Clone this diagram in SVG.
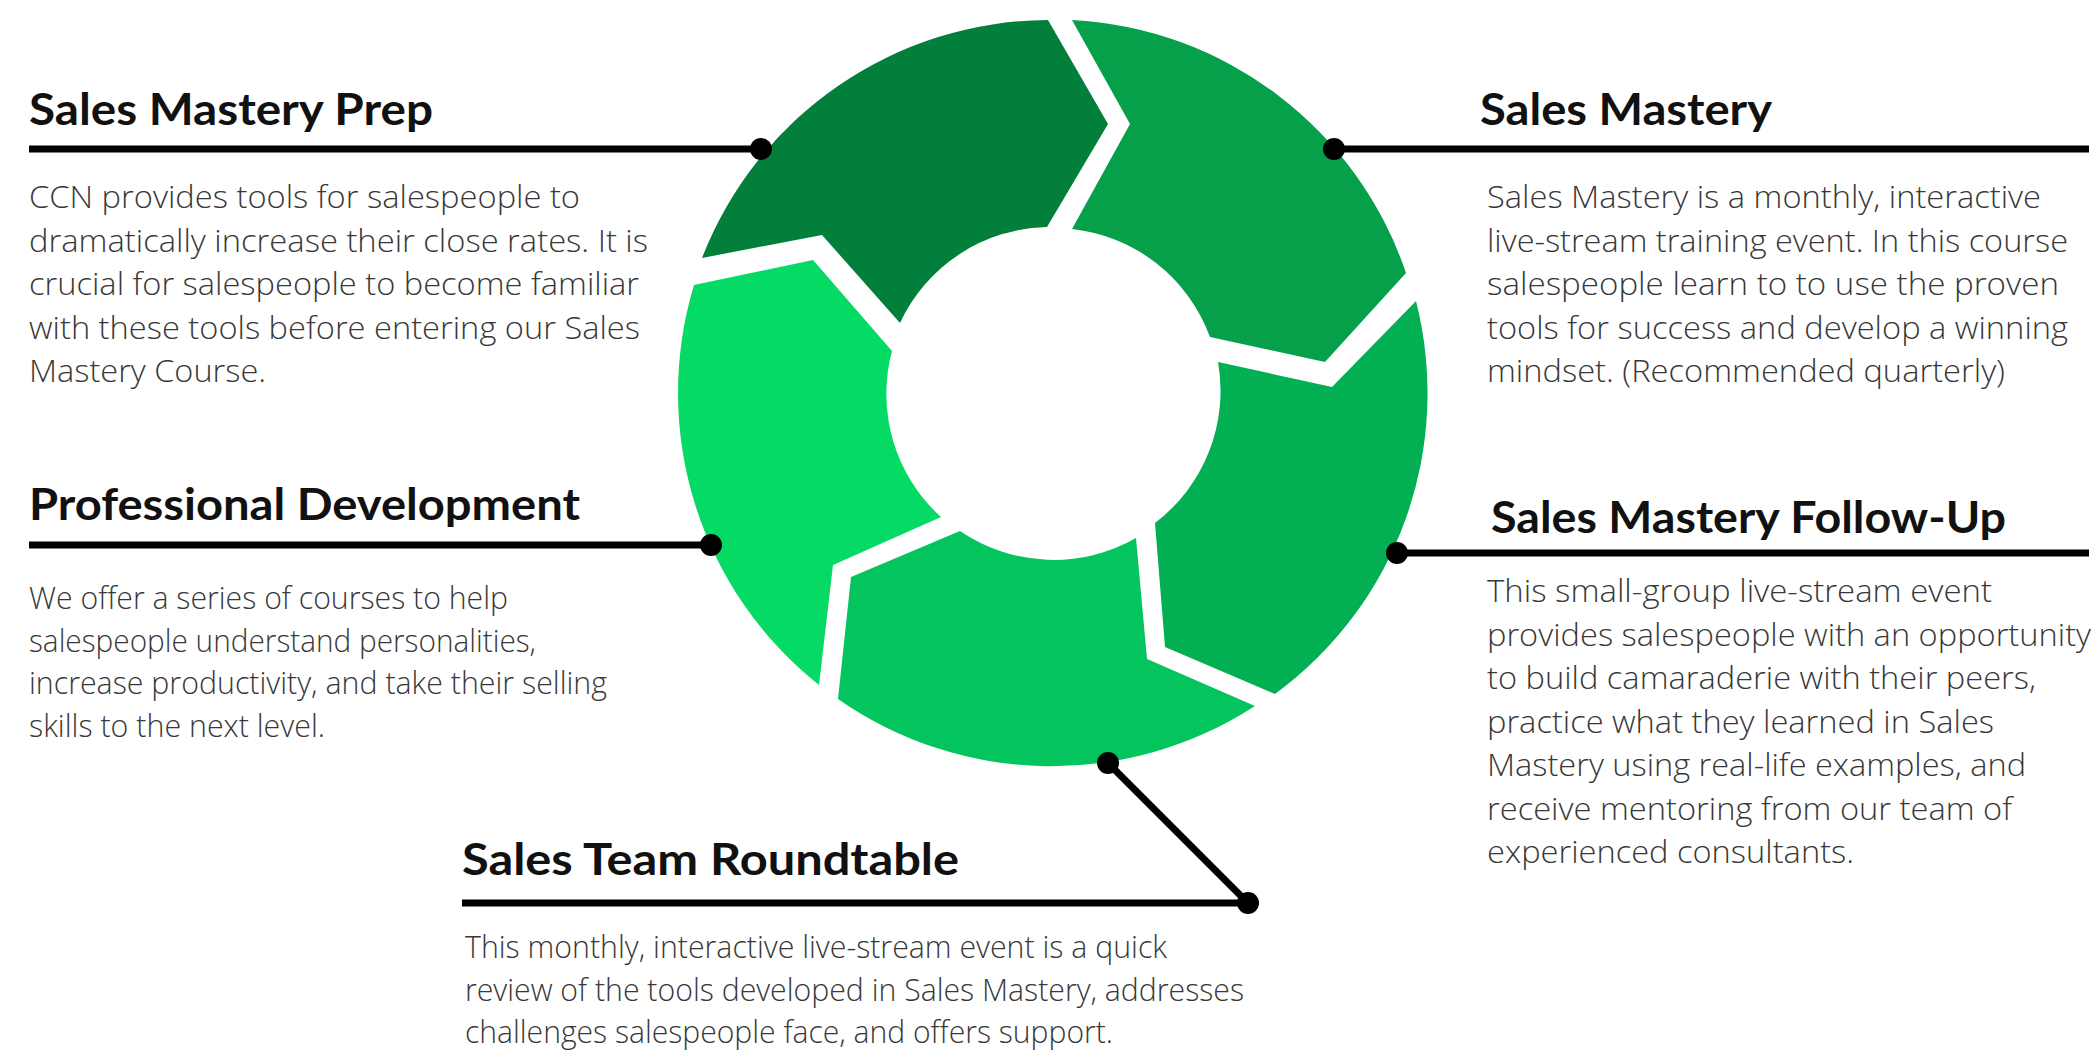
<svg xmlns="http://www.w3.org/2000/svg" width="2100" height="1052" viewBox="0 0 2100 1052">
<style>
.h{font-family:"Lato","Liberation Sans",sans-serif;font-weight:700;font-size:44px;fill:#111}
.b{font-family:"Open Sans","Liberation Sans",sans-serif;font-weight:300;font-size:32px;fill:#383838}
.ln{stroke:#000;stroke-width:7;fill:none}
.dot{fill:#000}
</style>
<rect width="2100" height="1052" fill="#fff"/>
<g id="cycle">
<g id="seg-prep"><path fill="#027F3A" d="M702,258 A373,373 0 0 1 1048,20 L1108,124 L1047,227 A166,166 0 0 0 900,323 L822,235 Z"/></g>
<g id="seg-mastery"><path fill="#06A04B" d="M1072,20 A373,373 0 0 1 1406,273 L1325,362 L1210,337 A166,166 0 0 0 1072,229 L1130,124 Z"/></g>
<g id="seg-followup"><path fill="#02AF53" d="M1416,301 A373,373 0 0 1 1275,694 L1165,647 L1155,523 A166,166 0 0 0 1218,362 L1332,387 Z"/></g>
<g id="seg-roundtable"><path fill="#04C45D" d="M1255,706 A373,373 0 0 1 838,699 L851,577 L960,531 A166,166 0 0 0 1136,538 L1147,659 Z"/></g>
<g id="seg-profdev"><path fill="#04DA64" d="M819,685 A373,373 0 0 1 694,285 L813,260 L892,351 A166,166 0 0 0 941,517 L833,565 Z"/></g>
</g>
<g id="connectors">
<line class="ln" x1="29" y1="149" x2="761" y2="149"/>
<circle class="dot" cx="761" cy="149" r="11"/>
<line class="ln" x1="1334" y1="149" x2="2089" y2="149"/>
<circle class="dot" cx="1334" cy="149" r="11"/>
<line class="ln" x1="29" y1="545" x2="711" y2="545"/>
<circle class="dot" cx="711" cy="545" r="11"/>
<line class="ln" x1="1397" y1="553" x2="2089" y2="553"/>
<circle class="dot" cx="1397" cy="553" r="11"/>
<polyline class="ln" points="1108,763 1248,903 462,903"/>
<circle class="dot" cx="1108" cy="763" r="11"/>
<circle class="dot" cx="1248" cy="903" r="11"/>
</g>
<g id="node-prep">
<text class="h" x="29" y="125" textLength="404" lengthAdjust="spacingAndGlyphs">Sales Mastery Prep</text>
<text class="b" x="29" y="208" textLength="551" lengthAdjust="spacingAndGlyphs">CCN provides tools for salespeople to</text>
<text class="b" x="29" y="251.5" textLength="619" lengthAdjust="spacingAndGlyphs">dramatically increase their close rates. It is</text>
<text class="b" x="29" y="295" textLength="610" lengthAdjust="spacingAndGlyphs">crucial for salespeople to become familiar</text>
<text class="b" x="29" y="338.5" textLength="611" lengthAdjust="spacingAndGlyphs">with these tools before entering our Sales</text>
<text class="b" x="29" y="382" textLength="237" lengthAdjust="spacingAndGlyphs">Mastery Course.</text>
</g>
<g id="node-mastery">
<text class="h" x="1480" y="125" textLength="292" lengthAdjust="spacingAndGlyphs">Sales Mastery</text>
<text class="b" x="1487" y="208" textLength="554" lengthAdjust="spacingAndGlyphs">Sales Mastery is a monthly, interactive</text>
<text class="b" x="1487" y="251.5" textLength="581" lengthAdjust="spacingAndGlyphs">live-stream training event. In this course</text>
<text class="b" x="1487" y="295" textLength="572" lengthAdjust="spacingAndGlyphs">salespeople learn to to use the proven</text>
<text class="b" x="1487" y="338.5" textLength="581" lengthAdjust="spacingAndGlyphs">tools for success and develop a winning</text>
<text class="b" x="1487" y="382" textLength="518" lengthAdjust="spacingAndGlyphs">mindset. (Recommended quarterly)</text>
</g>
<g id="node-profdev">
<text class="h" x="29" y="520" textLength="551" lengthAdjust="spacingAndGlyphs">Professional Development</text>
<text class="b" x="29" y="609" textLength="479" lengthAdjust="spacingAndGlyphs">We offer a series of courses to help</text>
<text class="b" x="29" y="651.5" textLength="507" lengthAdjust="spacingAndGlyphs">salespeople understand personalities,</text>
<text class="b" x="29" y="694" textLength="578" lengthAdjust="spacingAndGlyphs">increase productivity, and take their selling</text>
<text class="b" x="29" y="736.5" textLength="296" lengthAdjust="spacingAndGlyphs">skills to the next level.</text>
</g>
<g id="node-followup">
<text class="h" x="1491" y="533" textLength="515" lengthAdjust="spacingAndGlyphs">Sales Mastery Follow-Up</text>
<text class="b" x="1487" y="602" textLength="505" lengthAdjust="spacingAndGlyphs">This small-group live-stream event</text>
<text class="b" x="1487" y="645.5" textLength="604" lengthAdjust="spacingAndGlyphs">provides salespeople with an opportunity</text>
<text class="b" x="1487" y="689" textLength="549" lengthAdjust="spacingAndGlyphs">to build camaraderie with their peers,</text>
<text class="b" x="1487" y="732.5" textLength="507" lengthAdjust="spacingAndGlyphs">practice what they learned in Sales</text>
<text class="b" x="1487" y="776" textLength="539" lengthAdjust="spacingAndGlyphs">Mastery using real-life examples, and</text>
<text class="b" x="1487" y="819.5" textLength="525" lengthAdjust="spacingAndGlyphs">receive mentoring from our team of</text>
<text class="b" x="1487" y="863" textLength="367" lengthAdjust="spacingAndGlyphs">experienced consultants.</text>
</g>
<g id="node-roundtable">
<text class="h" x="462" y="875" textLength="497" lengthAdjust="spacingAndGlyphs">Sales Team Roundtable</text>
<text class="b" x="465" y="958" textLength="702" lengthAdjust="spacingAndGlyphs">This monthly, interactive live-stream event is a quick</text>
<text class="b" x="465" y="1000.5" textLength="779" lengthAdjust="spacingAndGlyphs">review of the tools developed in Sales Mastery, addresses</text>
<text class="b" x="465" y="1043" textLength="648" lengthAdjust="spacingAndGlyphs">challenges salespeople face, and offers support.</text>
</g>
</svg>
